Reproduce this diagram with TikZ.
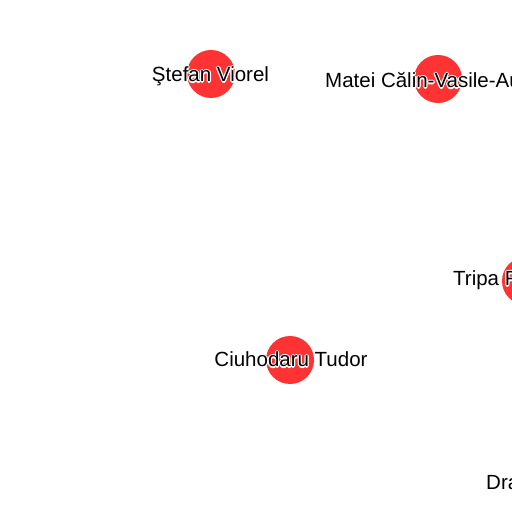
\documentclass[tikz,border=0pt]{standalone}
\usepackage{fontspec}
\setmainfont{Liberation Sans}
\definecolor{dotred}{RGB}{255,51,51}
\tikzset{
  dot/.style={circle, fill=dotred, draw=none, minimum size=48pt, inner sep=0pt},
  lbltext/.style={inner sep=0pt, font=\fontsize{20.5}{22}\selectfont, text=black},
  halotext/.style={lbltext, text=white}
}
\newcommand\mylabel[4]{%
  \foreach \dx/\dy in {1.2/0,-1.2/0,0/1.2,0/-1.2,0.85/0.85,-0.85/0.85,0.85/-0.85,-0.85/-0.85}{%
    \node[halotext, anchor=#3] at ([shift={(\dx pt,\dy pt)}]#2) {#4};
  }%
  \node[lbltext, anchor=#3] (#1) at (#2) {#4};
}
\begin{document}
\begin{tikzpicture}[x=1pt,y=1pt]
\useasboundingbox (0,0) rectangle (512,512);
\fill[white] (0,0) rectangle (512,512);
\clip (0,0) rectangle (512,512);
% nodes
\node[dot] (stefan) at (211,438) {};
\node[dot] (matei) at (438,433) {};
\node[dot] (tripa) at (526,231) {};
\node[dot] (ciuh) at (290,152) {};
% labels
\mylabel{lstefan}{210.5,430}{base}{Ştefan Viorel}
\mylabel{lmatei}{325,424}{base west}{Matei Călin-Vasile-Au}
\mylabel{ltripa}{453,226}{base west}{Tripa F}
\mylabel{lciuh}{291,145}{base}{Ciuhodaru Tudor}
\mylabel{ldra}{486,22}{base west}{Dra}
\end{tikzpicture}
\end{document}
